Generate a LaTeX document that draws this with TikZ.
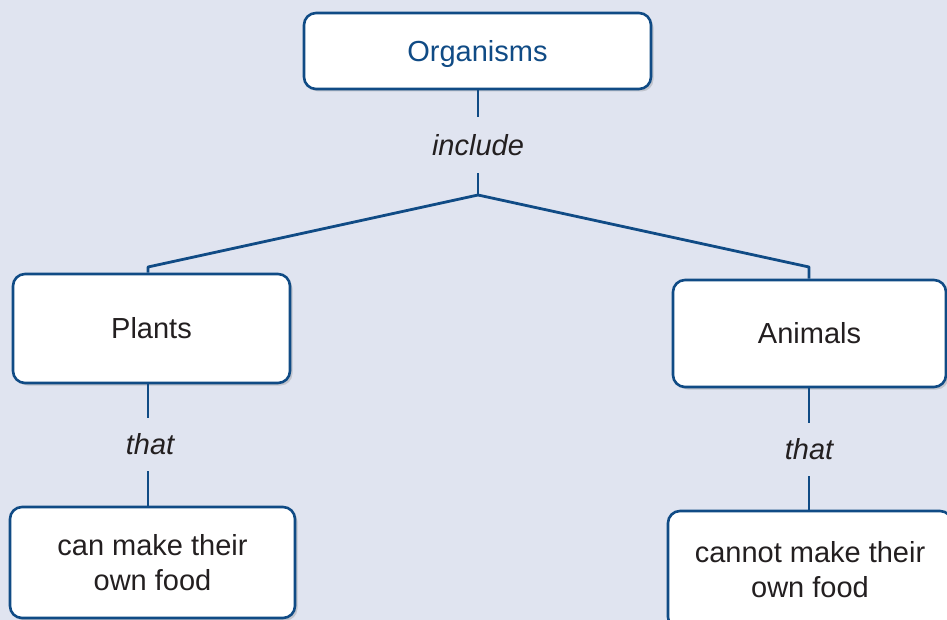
\documentclass[tikz,border=0pt]{standalone}
\usepackage{fontspec}
\setmainfont{Liberation Sans}
\usetikzlibrary{shadows}
\definecolor{bgc}{RGB}{224,228,240}
\definecolor{linec}{RGB}{16,75,133}
\definecolor{txtc}{RGB}{35,31,32}
\tikzset{
  conbox/.style={draw=linec, line width=2.6pt, fill=white, rounded corners=12pt,
    inner sep=0pt, align=center, text=txtc,
    font=\fontsize{29}{35}\selectfont,
    drop shadow={shadow xshift=2.5pt, shadow yshift=-2.5pt, opacity=0.25, fill=black!60}},
  linkword/.style={inner sep=0pt, text=txtc, font=\fontsize{29}{35}\selectfont\itshape},
  conn/.style={draw=linec, line width=2.8pt}
}
\begin{document}
\begin{tikzpicture}[x=1pt,y=-1pt]
\clip (0,0) rectangle (947,620);
\fill[bgc] (0,0) rectangle (947,620);

\node[conbox, text=linec, text depth=0pt, minimum width=347pt, minimum height=76pt] (org) at (477.5,51) {Organisms};
\node[conbox, minimum width=277pt, minimum height=109pt] (plants) at (151.5,328.5) {Plants};
\node[conbox, minimum width=273pt, minimum height=107pt] (animals) at (809.5,333.5) {Animals};
\node[conbox, minimum width=285pt, minimum height=111pt] (canfood) at (152.5,562.5) {can make their\\own food};
\node[conbox, minimum width=284pt, minimum height=118pt] (cannotfood) at (810,570) {cannot make their\\own food};

\node[linkword, minimum height=56pt] (inc) at (478,145) {include};
\node[linkword, minimum height=53pt] (thatl) at (150,444.5) {that};
\node[linkword, minimum height=53pt] (thatr) at (809,449.5) {that};

\coordinate (fork) at (478,195);
\coordinate (jl) at (148,267);
\coordinate (jr) at (809,267);

\draw[conn] (org.south -| fork) -- (inc.north -| fork);
\draw[conn] (inc.south -| fork) -- (fork);
\draw[conn, line join=round] (fork) -- (jl) -- (plants.north -| jl);
\draw[conn, line join=round] (fork) -- (jr) -- (animals.north -| jr);
\draw[conn] (plants.south -| jl) -- (thatl.north -| jl);
\draw[conn] (thatl.south -| jl) -- (canfood.north -| jl);
\draw[conn] (animals.south -| jr) -- (thatr.north -| jr);
\draw[conn] (thatr.south -| jr) -- (cannotfood.north -| jr);
\end{tikzpicture}
\end{document}
